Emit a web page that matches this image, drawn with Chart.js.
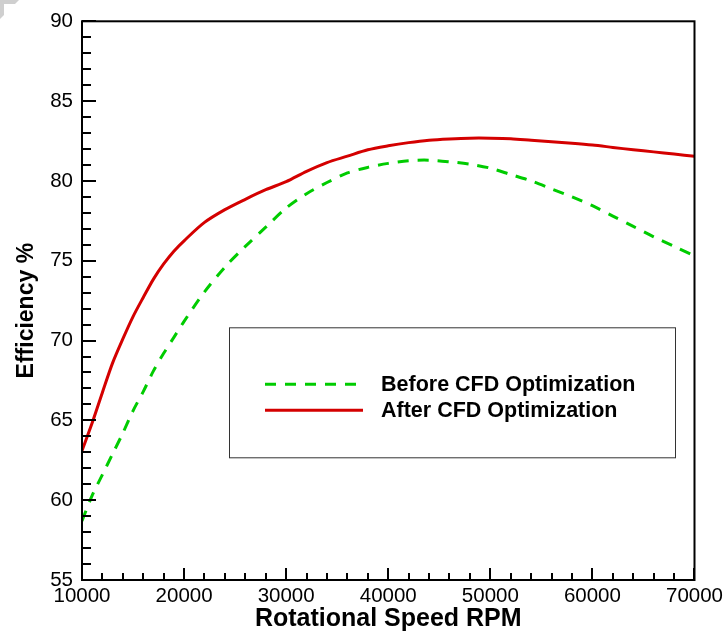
<!DOCTYPE html>
<html>
<head>
<meta charset="utf-8">
<script src="https://cdn.jsdelivr.net/npm/chart.js@4.4.1/dist/chart.umd.min.js"></script>
<style>
  html, body { margin: 0; padding: 0; background: #fff; }
  #wrap { width: 727px; height: 632px; }
</style>
</head>
<body>
<div id="wrap"><canvas id="effChart" width="727" height="632"></canvas></div>
<script>
// Efficiency vs rotational speed
const rpm = [
  10000, 11000, 12000, 13000, 14000, 15000, 16000, 17000, 18000, 19000,
  20000, 22000, 24000, 26000, 28000, 30000, 32000, 34000, 36000, 38000,
  40000, 42000, 44000, 46000, 48000, 50000, 52000, 54000, 56000, 58000,
  60000, 62000, 64000, 66000, 68000, 70000,
];
const beforeCfd = [
  58.7, 60.3, 61.6, 62.9, 64.2, 65.6, 66.8, 68.1, 69.2, 70.2,
  71.2, 73.05, 74.6, 75.9, 77.1, 78.3, 79.2, 79.9, 80.5, 80.85,
  81.1, 81.27, 81.3, 81.2, 81.05, 80.8, 80.4, 80.0, 79.5, 79.0,
  78.45, 77.8, 77.15, 76.5, 75.9, 75.3,
];
const afterCfd = [
  63.1, 64.85, 66.75, 68.6, 70.1, 71.5, 72.7, 73.85, 74.8, 75.6,
  76.25, 77.4, 78.2, 78.85, 79.45, 79.95, 80.6, 81.15, 81.55, 81.95,
  82.2, 82.4, 82.55, 82.63, 82.68, 82.68, 82.65, 82.55, 82.45, 82.36,
  82.25, 82.1, 81.95, 81.82, 81.68, 81.55,
];
const seriesLabels = ["Before CFD Optimization", "After CFD Optimization"];
const yTitle = "Efficiency %";

const FONT = "'Liberation Sans', Arial, sans-serif";

function pts(ys) {
  return rpm.map((x, i) => ({ x: x, y: ys[i] }));
}

// frame, inward ticks, y title, legend box and the little grey corner mark
const framePlugin = {
  id: "frame",
  afterDraw(chart) {
    const ctx = chart.ctx;
    const a = chart.chartArea;
    const xs = chart.scales.x;
    const ys = chart.scales.y;
    ctx.save();

    // grey corner
    ctx.fillStyle = "#cfcfcf";
    ctx.beginPath();
    ctx.moveTo(0, 0); ctx.lineTo(19, 0); ctx.lineTo(15, 4);
    ctx.lineTo(4, 4); ctx.lineTo(4, 15); ctx.lineTo(0, 19);
    ctx.closePath(); ctx.fill();

    ctx.strokeStyle = "#000";
    ctx.lineWidth = 2;
    ctx.strokeRect(a.left, a.top, a.right - a.left, a.bottom - a.top);

    ctx.beginPath();
    for (let v = ys.min; v <= ys.max; v += 1) {
      const py = Math.round(ys.getPixelForValue(v));
      const len = v % 5 === 0 ? 14 : 9;
      ctx.moveTo(a.left, py); ctx.lineTo(a.left + len, py);
    }
    for (let v = xs.min; v <= xs.max; v += 2000) {
      const px = Math.round(xs.getPixelForValue(v));
      const len = v % 10000 === 0 ? 12 : 7;
      ctx.moveTo(px, a.bottom); ctx.lineTo(px, a.bottom - len);
    }
    ctx.stroke();

    // y axis title, sits a little below the middle in the original
    ctx.save();
    ctx.translate(27, (a.top + a.bottom) / 2 + 10);
    ctx.rotate(-Math.PI / 2);
    ctx.font = "bold 23px " + FONT;
    ctx.textAlign = "center";
    ctx.textBaseline = "middle";
    ctx.fillStyle = "#000";
    ctx.fillText(yTitle, 0, 0);
    ctx.restore();

    // legend box
    const bx = a.left + 147, by = a.top + 306, bw = 446, bh = 130;
    ctx.lineWidth = 1;
    ctx.strokeStyle = "#333";
    ctx.strokeRect(bx + 0.5, by + 0.5, bw, bh);
    ctx.font = "bold 21.5px " + FONT;
    ctx.textBaseline = "middle";
    ctx.fillStyle = "#000";
    chart.data.datasets.forEach((ds, i) => {
      const ly = by + 57 + i * 26;
      ctx.beginPath();
      ctx.strokeStyle = ds.borderColor;
      ctx.lineWidth = 3;
      ctx.setLineDash(ds.borderDash || []);
      ctx.moveTo(bx + 36, ly); ctx.lineTo(bx + 134, ly);
      ctx.stroke();
      ctx.setLineDash([]);
      ctx.fillText(ds.label, bx + 152, ly + 1);
    });
    ctx.restore();
  },
};

new Chart(document.getElementById("effChart").getContext("2d"), {
  type: "line",
  data: {
    datasets: [
      {
        label: seriesLabels[0],
        data: pts(beforeCfd),
        borderColor: "#00cc00",
        borderWidth: 3,
        borderDash: [11, 9],
        pointRadius: 0,
        tension: 0.3,
        fill: false,
      },
      {
        label: seriesLabels[1],
        data: pts(afterCfd),
        borderColor: "#d40000",
        borderWidth: 3,
        pointRadius: 0,
        tension: 0.3,
        fill: false,
      },
    ],
  },
  options: {
    responsive: false,
    animation: false,
    devicePixelRatio: 1,
    layout: { padding: { top: 21, right: 32, left: 0, bottom: 0 } },
    plugins: {
      legend: { display: false },
      tooltip: { enabled: false },
    },
    scales: {
      x: {
        type: "linear",
        min: 10000,
        max: 70000,
        grid: { display: false, drawTicks: false },
        border: { display: false },
        ticks: {
          stepSize: 10000,
          autoSkip: false,
          maxRotation: 0,
          padding: 4,
          color: "#000",
          font: { family: FONT, size: 20.5 },
          callback: (v) => String(v),
        },
        title: {
          display: true,
          text: "Rotational Speed RPM",
          color: "#000",
          font: { family: FONT, size: 25, weight: "bold", lineHeight: 1 },
          padding: { top: 0, bottom: 0 },
        },
        afterFit(scale) { scale.height = 52; },
      },
      y: {
        min: 55,
        max: 90,
        grid: { display: false, drawTicks: false },
        border: { display: false },
        ticks: {
          stepSize: 5,
          autoSkip: false,
          padding: 9,
          color: "#000",
          font: { family: FONT, size: 20.5 },
        },
        title: { display: false },
        afterFit(scale) { scale.width = 82; },
      },
    },
  },
  plugins: [framePlugin],
});
</script>
</body>
</html>
